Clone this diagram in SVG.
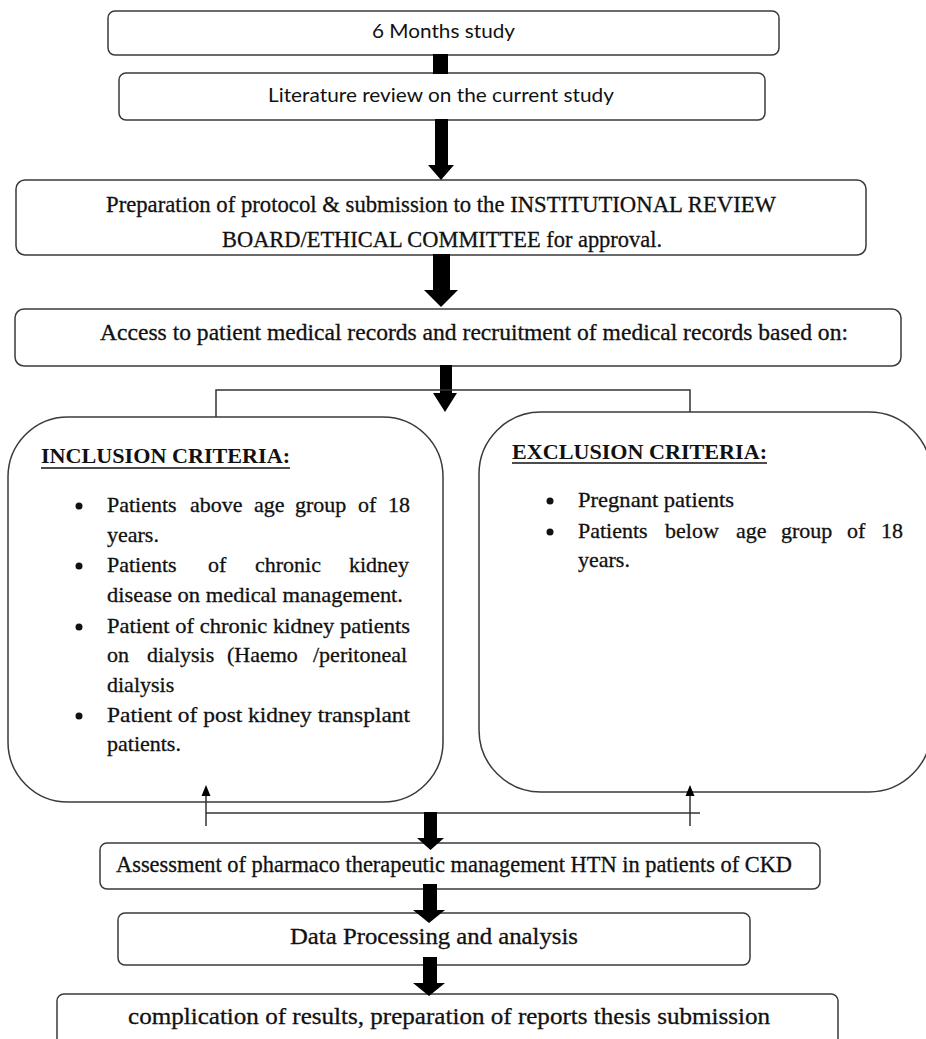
<svg xmlns="http://www.w3.org/2000/svg" width="926" height="1039" viewBox="0 0 926 1039">
<defs>
<style>
.box{fill:#fff;stroke:#3a3a3a;stroke-width:1.5}
.sans{font-family:"Lato","Open Sans","Liberation Sans",sans-serif;font-size:19px;fill:#111}
.serif{font-family:"Liberation Serif","Times New Roman",serif;font-size:23px;fill:#111;stroke:#111;stroke-width:0.3}
.body{font-family:"Liberation Serif","Times New Roman",serif;font-size:22px;fill:#111;stroke:#111;stroke-width:0.3}
.head{font-family:"Liberation Serif","Times New Roman",serif;font-size:22px;font-weight:bold;fill:#111}
.ln{fill:none;stroke:#333;stroke-width:1.5}
.thick{fill:#000;stroke:none}
.ul{stroke:#111;stroke-width:1.4}
</style>
</defs>
<rect width="926" height="1039" fill="#fff"/>

<g id="n1">
<rect class="box" x="108" y="11" width="671" height="44" rx="7"/>
<text class="sans" x="443.5" y="38" text-anchor="middle" textLength="143" lengthAdjust="spacingAndGlyphs">6 Months study</text>
</g>

<g id="n2">
<rect class="box" x="119" y="73" width="646" height="47" rx="7"/>
<text class="sans" x="441" y="102" text-anchor="middle" textLength="346" lengthAdjust="spacingAndGlyphs">Literature review on the current study</text>
</g>

<g id="n3">
<rect class="box" x="16" y="180" width="850" height="75" rx="9"/>
<text class="serif" x="106" y="212" textLength="670" lengthAdjust="spacingAndGlyphs">Preparation of protocol &amp; submission to the INSTITUTIONAL REVIEW</text>
<text class="serif" x="222" y="247" textLength="440" lengthAdjust="spacingAndGlyphs">BOARD/ETHICAL COMMITTEE  for approval.</text>
</g>

<g id="n4">
<rect class="box" x="15" y="309" width="886" height="57" rx="9"/>
<text class="serif" x="100" y="340" textLength="748" lengthAdjust="spacingAndGlyphs">Access to patient medical records and recruitment of medical records based on:</text>
</g>

<g id="inclusion">
<rect class="box" x="8" y="417" width="435" height="385" rx="60"/>
<text class="head" x="41" y="463" textLength="249" lengthAdjust="spacingAndGlyphs">INCLUSION CRITERIA:</text>
<line class="ul" x1="41" y1="468" x2="290" y2="468"/>
<circle cx="79" cy="506" r="3.5" fill="#111"/>
<circle cx="79" cy="566" r="3.5" fill="#111"/>
<circle cx="79" cy="627" r="3.5" fill="#111"/>
<circle cx="79" cy="716" r="3.5" fill="#111"/>
<text class="body" y="512"><tspan x="107">Patients</tspan><tspan x="190">above</tspan><tspan x="254">age</tspan><tspan x="295">group</tspan><tspan x="358">of</tspan><tspan x="388">18</tspan></text>
<text class="body" x="107" y="542">years.</text>
<text class="body" y="572"><tspan x="107">Patients</tspan><tspan x="208">of</tspan><tspan x="255">chronic</tspan><tspan x="349">kidney</tspan></text>
<text class="body" x="107" y="602" textLength="296" lengthAdjust="spacingAndGlyphs">disease on medical management.</text>
<text class="body" x="107" y="633" textLength="303" lengthAdjust="spacingAndGlyphs">Patient of chronic kidney patients</text>
<text class="body" y="662"><tspan x="107">on</tspan><tspan x="147">dialysis</tspan><tspan x="227">(Haemo</tspan><tspan x="313">/peritoneal</tspan></text>
<text class="body" x="107" y="692">dialysis</text>
<text class="body" x="107" y="722" textLength="303" lengthAdjust="spacingAndGlyphs">Patient of post kidney transplant</text>
<text class="body" x="107" y="751">patients.</text>
</g>

<g id="exclusion">
<rect class="box" x="479" y="412" width="452" height="380" rx="62"/>
<text class="head" x="512" y="459" textLength="255" lengthAdjust="spacingAndGlyphs">EXCLUSION CRITERIA:</text>
<line class="ul" x1="512" y1="463" x2="767" y2="463"/>
<circle cx="550" cy="501" r="3.5" fill="#111"/>
<circle cx="550" cy="532" r="3.5" fill="#111"/>
<text class="body" x="578" y="507" textLength="156" lengthAdjust="spacingAndGlyphs">Pregnant patients</text>
<text class="body" y="538"><tspan x="578">Patients</tspan><tspan x="665">below</tspan><tspan x="736">age</tspan><tspan x="781">group</tspan><tspan x="847">of</tspan><tspan x="881">18</tspan></text>
<text class="body" x="578" y="567">years.</text>
</g>

<g id="n5">
<rect class="box" x="100" y="843" width="720" height="46" rx="7"/>
<text class="serif" x="116" y="872" textLength="676" lengthAdjust="spacingAndGlyphs">Assessment  of pharmaco therapeutic management HTN in patients of CKD</text>
</g>

<g id="n6">
<rect class="box" x="118" y="913" width="632" height="52" rx="7"/>
<text class="serif" x="290" y="944" textLength="288" lengthAdjust="spacingAndGlyphs">Data Processing and analysis</text>
</g>

<g id="n7">
<rect class="box" x="57" y="994" width="781" height="60" rx="7"/>
<text class="serif" x="128" y="1024" textLength="642" lengthAdjust="spacingAndGlyphs">complication of results, preparation of reports thesis submission</text>
</g>

<g id="connectors">
<rect class="thick" x="433" y="54" width="15" height="20"/>
<polygon class="thick" points="435,119 448,119 448,165 454,165 441,180 428,165 435,165"/>
<polygon class="thick" points="433,254 450,254 450,290 458,290 441,307 424,290 433,290"/>
<polygon class="thick" points="440,365 452,365 452,393 457,393 445,412 433,393 440,393"/>
<polyline class="ln" points="216,417 216,390 690,390 690,412"/>
<line class="ln" x1="206" y1="813" x2="700" y2="813"/>
<line class="ln" x1="206" y1="826" x2="206" y2="794"/>
<polygon class="thick" points="206,785 210.5,796 201.5,796"/>
<line class="ln" x1="690" y1="826" x2="690" y2="794"/>
<polygon class="thick" points="690,785 694.5,796 685.5,796"/>
<polygon class="thick" points="424,812 437,812 437,838 444,838 430.5,850 417,838 424,838"/>
<polygon class="thick" points="423,884 437,884 437,910 445,910 429,923 413,910 423,910"/>
<polygon class="thick" points="423,957 437,957 437,983 445,983 429,996 413,983 423,983"/>
</g>
</svg>
